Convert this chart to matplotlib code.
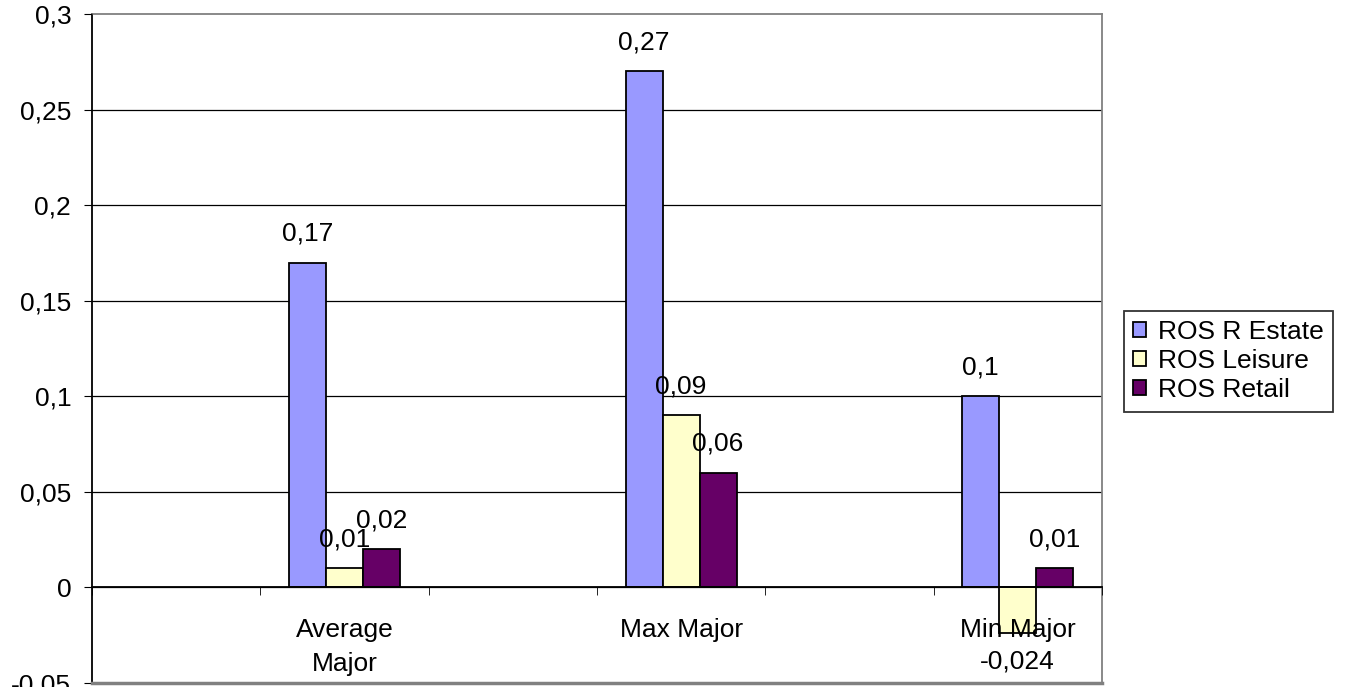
import numpy as np
import matplotlib.pyplot as plt

plt.rcParams['font.family'] = ['Liberation Sans', 'DejaVu Sans']

# categories (empty slots keep Excel-like spacing)
categories = ['', 'Average\nMajor', '', 'Max Major', '', 'Min Major']
series_names = ['ROS R Estate', 'ROS Leisure', 'ROS Retail']
ros_estate = [np.nan, 0.17, np.nan, 0.27, np.nan, 0.10]
ros_leisure = [np.nan, 0.01, np.nan, 0.09, np.nan, -0.024]
ros_retail = [np.nan, 0.02, np.nan, 0.06, np.nan, 0.01]
colors = ['#9999FF', '#FFFFCC', '#660066']

FS = 19

fig = plt.figure(figsize=(13.46, 6.87), dpi=100)
ax = fig.add_axes([0.0684, 0.0058, 0.7502, 0.9738])
ax.set_axisbelow(False)

x = np.arange(len(categories))
width = 0.22
all_series = [ros_estate, ros_leisure, ros_retail]

yt = np.arange(-0.05, 0.3001, 0.05)
for v in yt[1:-1]:
    ax.axhline(v, color='black', linewidth=0.9, zorder=0.5)

for i, (vals, name, c) in enumerate(zip(all_series, series_names, colors)):
    pos = x + (i - 1) * width
    ax.bar(pos, vals, width, color=c, edgecolor='black', linewidth=1.3,
           label=name, zorder=2)
    for p, v in zip(pos, vals):
        if np.isnan(v):
            continue
        txt = f'{v:g}'.replace('.', ',')
        off = 21 if v >= 0 else -20
        ax.annotate(txt, (p, v), xytext=(0, off), textcoords='offset points',
                    ha='center', va='center', fontsize=FS, zorder=4)

# category labels drawn as text so they sit above the bars
for xi, cat in zip(x, categories):
    if cat:
        ax.annotate(cat, (xi, 0), xytext=(0, -22), textcoords='offset points',
                    ha='center', va='top', fontsize=FS, linespacing=1.55,
                    zorder=4)

ax.set_xlim(-0.5, len(categories) - 0.5)
ax.set_ylim(-0.05, 0.3)

ax.set_yticks(yt)
ax.set_yticklabels([f'{v:.2f}'.rstrip('0').rstrip('.').replace('.', ',') if abs(v) > 1e-9 else '0'
                    for v in yt])

ax.set_xticks([])
ax.set_xticks(np.arange(-0.5, len(categories), 1), minor=True)
ax.tick_params(axis='x', which='minor', length=6, direction='out', color='black')
ax.tick_params(axis='y', length=6, direction='out', color='black', pad=9, labelsize=FS)

ax.spines['bottom'].set_position(('data', 0))
ax.spines['bottom'].set_color('black')
ax.spines['left'].set_color('black')
ax.spines['top'].set_color('#808080')
ax.spines['right'].set_color('#808080')
for s in ax.spines.values():
    s.set_linewidth(1.3)
ax.axhline(-0.05, color='#808080', linewidth=2.5, clip_on=False, zorder=5)

leg = fig.legend(loc='center left', bbox_to_anchor=(0.835, 0.4745), fontsize=FS,
                 frameon=True, fancybox=False, edgecolor='black',
                 handlelength=0.5, handleheight=0.5, handletextpad=0.45,
                 borderpad=0.35, labelspacing=0.2, borderaxespad=0)
leg.get_frame().set_linewidth(1.3)

fig.savefig('out.png', dpi=100)
